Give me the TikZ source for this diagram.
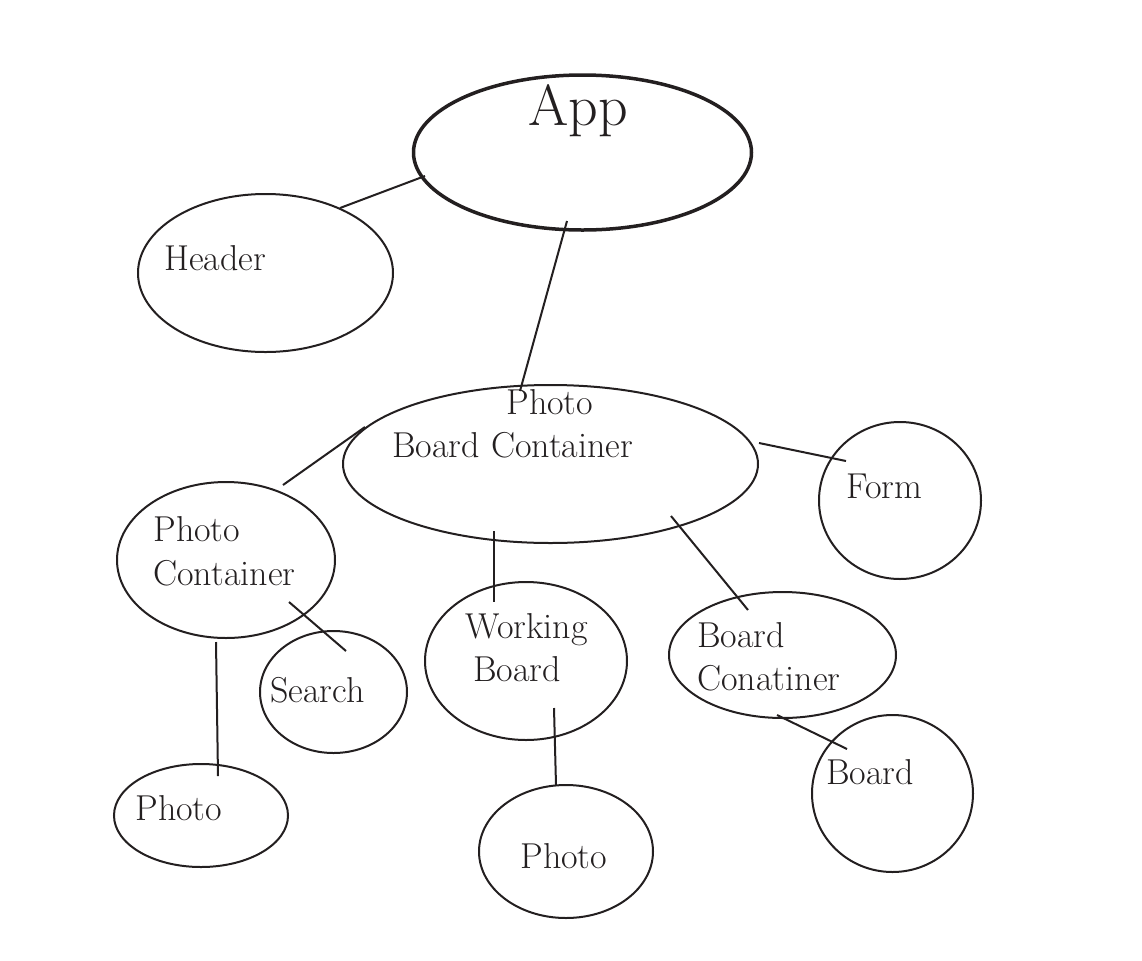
\documentclass[tikz,border=0pt]{standalone}
\usetikzlibrary{shapes.geometric}

\definecolor{ink}{RGB}{35,31,32}

\tikzset{
	bubble/.style = {draw = ink, ellipse, line width = 1pt, inner sep = 0pt, outer sep = 0pt},
	lbl/.style = {anchor = base west, inner sep = 0pt, text = ink, font = \fontsize{18}{22}\selectfont},
	link/.style = {draw = ink, line width = 1pt}
}

\begin{document}
\begin{tikzpicture}[x = 0.5pt, y = -0.5pt]

	\useasboundingbox (0, 0) rectangle (1142, 960);
	
	% Bubbles
	
	\node [bubble, line width = 1.75pt, minimum width = 169pt, minimum height = 77.5pt] (app) at (582.5, 152.5) {};
	\node [bubble, minimum width = 127.5pt, minimum height = 79pt] (hdr) at (265.5, 273) {};
	\node [bubble, minimum width = 207.5pt, minimum height = 79pt] (pbc) at (550.5, 464) {};
	\node [bubble, minimum width = 81pt, minimum height = 78.5pt] (form) at (900, 500.5) {};
	\node [bubble, minimum width = 109pt, minimum height = 78pt] (pc) at (226, 560) {};
	\node [bubble, minimum width = 73.5pt, minimum height = 61pt] (srch) at (333.5, 692) {};
	\node [bubble, minimum width = 101pt, minimum height = 79pt] (wb) at (526, 661) {};
	\node [bubble, minimum width = 113.5pt, minimum height = 63pt] (bc) at (782.5, 655) {};
	\node [bubble, minimum width = 80.5pt, minimum height = 78.5pt] (brd) at (892.5, 793.5) {};
	\node [bubble, minimum width = 87pt, minimum height = 51.5pt] (pho1) at (201, 815.5) {};
	\node [bubble, minimum width = 87pt, minimum height = 66.5pt] (pho2) at (566, 851.5) {};
	
	% Labels
	
	\node [lbl, font = \fontsize{29}{34}\selectfont] (appT) at (528, 125) {App};
	\node [lbl] (hdrT) at (164, 270) {Header};
	\node [lbl] (pbcT1) at (506, 414) {Photo};
	\node [lbl] (pbcT2) at (392, 457) {Board Container};
	\node [lbl] (formT) at (846, 498) {Form};
	\node [lbl] (pcT1) at (153, 541) {Photo};
	\node [lbl] (pcT2) at (153, 585) {Container};
	\node [lbl] (srchT) at (270, 702) {Search};
	\node [lbl] (wbT1) at (465, 638) {Working};
	\node [lbl] (wbT2) at (473, 681) {Board};
	\node [lbl] (bcT1) at (697, 647) {Board};
	\node [lbl] (bcT2) at (697, 690) {Conatiner};
	\node [lbl] (brdT) at (826, 784) {Board};
	\node [lbl] (pho1T) at (135, 820) {Photo};
	\node [lbl] (pho2T) at (520, 868) {Photo};
	
	% Links
	
	\draw [link] ([shift = {(74.5, -65)}] hdr.center) -- ([shift = {(-157.5, 23.5)}] app.center);
	\draw [link] ([shift = {(-15.5, 68.5)}] app.center) -- ([shift = {(-30.5, -73)}] pbc.center);
	\draw [link] ([shift = {(-185.5, -37)}] pbc.center) -- ([shift = {(57, -75)}] pc.center);
	\draw [link] ([shift = {(208.5, -21)}] pbc.center) -- ([shift = {(-54, -39.5)}] form.center);
	\draw [link] ([shift = {(-56.5, 67)}] pbc.center) -- ([shift = {(-32, -59)}] wb.center);
	\draw [link] ([shift = {(120.5, 52)}] pbc.center) -- ([shift = {(-34.5, -45)}] bc.center);
	\draw [link] ([shift = {(63, 42)}] pc.center) -- ([shift = {(12.5, -41)}] srch.center);
	\draw [link] ([shift = {(-10, 82)}] pc.center) -- ([shift = {(17, -39.5)}] pho1.center);
	\draw [link] ([shift = {(28, 47)}] wb.center) -- ([shift = {(-10, -66.5)}] pho2.center);
	\draw [link] ([shift = {(-5.5, 60)}] bc.center) -- ([shift = {(-45.5, -44.5)}] brd.center);
	
\end{tikzpicture}
\end{document}
